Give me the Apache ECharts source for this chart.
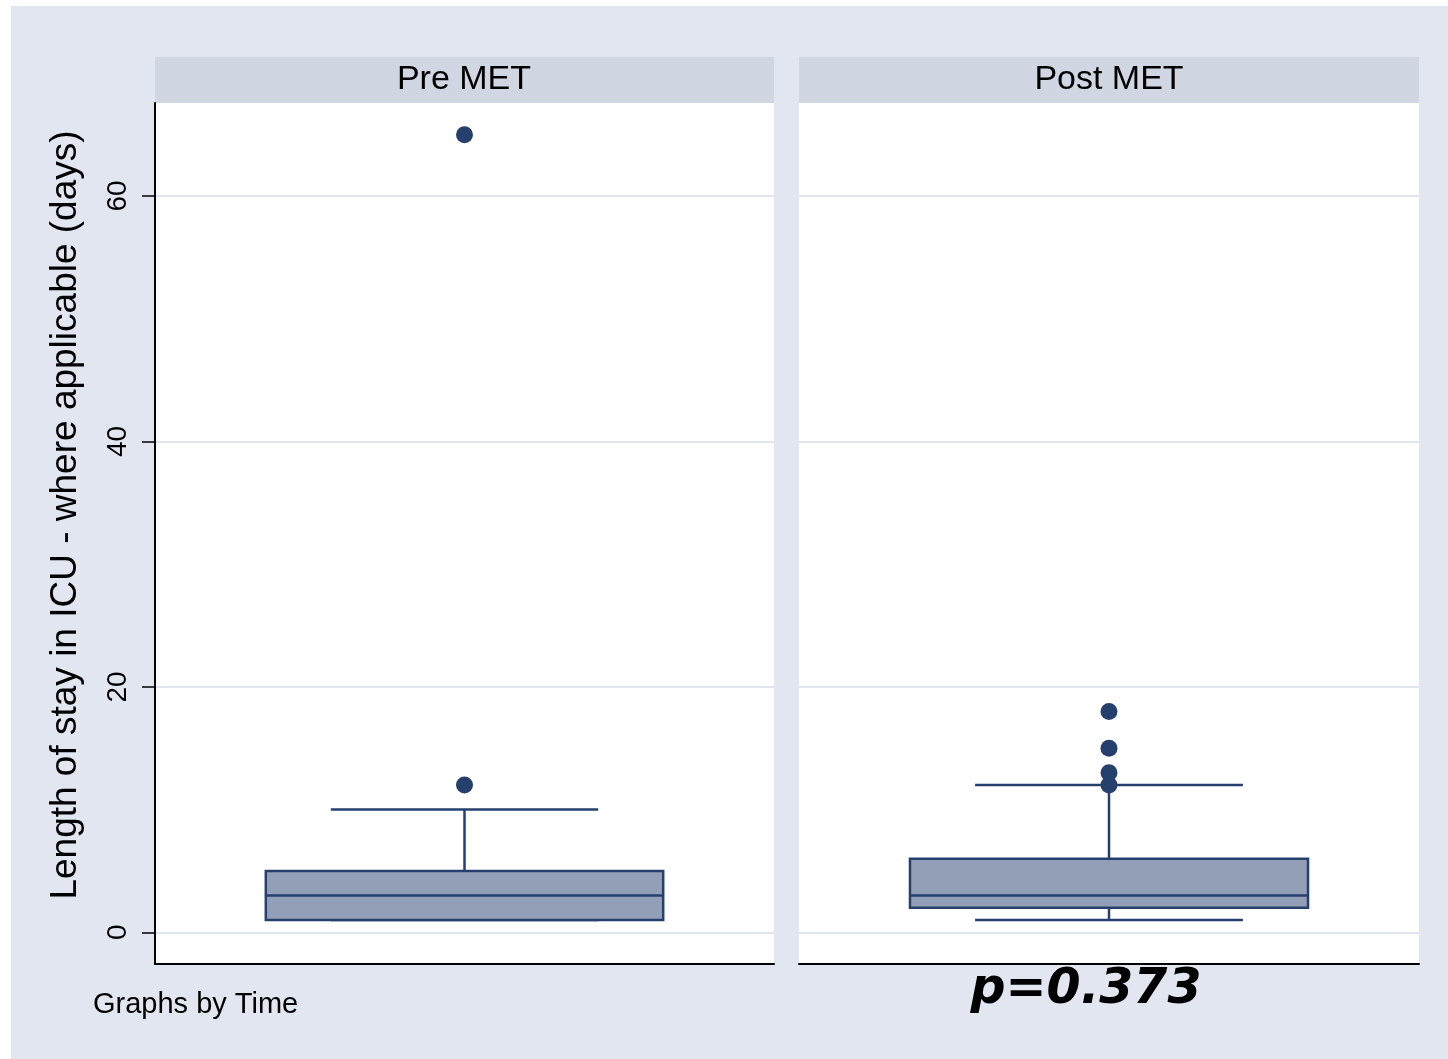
<!DOCTYPE html>
<html>
<head>
<meta charset="utf-8">
<script src="https://cdn.jsdelivr.net/npm/echarts@6/dist/echarts.min.js"></script>
<style>
html,body{margin:0;padding:0;background:#ffffff;}
#chart{width:1448px;height:1059px;}
</style>
</head>
<body>
<div id="chart"></div>
<script>
// ---- data ----
var panels = ['Pre MET', 'Post MET'];
// [lower adjacent, Q1, median, Q3, upper adjacent]
var preBox = [1, 1, 3, 5, 10];
var postBox = [1, 2, 3, 6, 12];
var preOutliers = [12, 65];
var postOutliers = [12, 13, 15, 18];
var yTicks = [0, 20, 40, 60];
var yTitle = 'Length of stay in ICU - where applicable (days)';
var noteText = 'Graphs by Time';
var pText = 'p=0.373';

var NAVY = '#26406e';
var FILL = '#939fb6';
var GRIDC = '#e0e5ef';

function boxRender(params, api) {
  var x = api.value(0);
  var lo = api.value(1), q1 = api.value(2), med = api.value(3), q3 = api.value(4), hi = api.value(5);
  var band = api.size([1, 0])[0];
  var bw = band * 0.642, cw = band * 0.432;
  var pLo = api.coord([x, lo]), pQ1 = api.coord([x, q1]), pMed = api.coord([x, med]),
      pQ3 = api.coord([x, q3]), pHi = api.coord([x, hi]);
  var cx = pMed[0];
  var ls = {stroke: NAVY, lineWidth: 2.5};
  return {
    type: 'group',
    children: [
      {type: 'line', shape: {x1: cx, y1: pQ3[1], x2: cx, y2: pHi[1]}, style: ls},
      {type: 'line', shape: {x1: cx, y1: pQ1[1], x2: cx, y2: pLo[1]}, style: ls},
      {type: 'line', shape: {x1: cx - cw / 2, y1: pHi[1], x2: cx + cw / 2, y2: pHi[1]}, style: ls},
      {type: 'line', shape: {x1: cx - cw / 2, y1: pLo[1], x2: cx + cw / 2, y2: pLo[1]}, style: ls},
      {type: 'rect', shape: {x: cx - bw / 2, y: pQ3[1], width: bw, height: pQ1[1] - pQ3[1]},
        style: {fill: FILL, stroke: NAVY, lineWidth: 2.5}},
      {type: 'line', shape: {x1: cx - bw / 2, y1: pMed[1], x2: cx + bw / 2, y2: pMed[1]}, style: ls}
    ]
  };
}

var chart = echarts.init(document.getElementById('chart'), null, {renderer: 'canvas'});

function yAxisCfg(idx, showLeft) {
  return {
    type: 'value', gridIndex: idx, min: -2.58, max: 67.58,
    axisLine: {show: showLeft, onZero: false, lineStyle: {color: '#000', width: 2}},
    axisTick: {show: showLeft, length: 13, customValues: yTicks, lineStyle: {color: '#000', width: 1.5}},
    axisLabel: {show: showLeft, customValues: yTicks, rotate: 90, margin: 23,
      fontFamily: 'Liberation Sans', fontSize: 28, color: '#000'},
    splitLine: {show: true, lineStyle: {color: GRIDC, width: 2}}
  };
}
function xAxisCfg(idx, name) {
  return {
    type: 'category', gridIndex: idx, data: [name], boundaryGap: true,
    axisLine: {show: true, onZero: false, lineStyle: {color: '#000', width: 2}},
    axisTick: {show: false}, axisLabel: {show: false}, splitLine: {show: false}
  };
}

var option = {
  backgroundColor: '#ffffff',
  animation: false,
  graphic: [
    {type: 'rect', z: -10, shape: {x: 11, y: 6, width: 1437, height: 1053}, style: {fill: '#e1e6f0'}},
    {type: 'rect', z: -9, shape: {x: 155, y: 103, width: 619, height: 861}, style: {fill: '#ffffff'}},
    {type: 'rect', z: -9, shape: {x: 799, y: 103, width: 620, height: 861}, style: {fill: '#ffffff'}},
    {type: 'rect', shape: {x: 155, y: 57, width: 619, height: 46}, style: {fill: '#d0d7e3'}},
    {type: 'rect', shape: {x: 799, y: 57, width: 620, height: 46}, style: {fill: '#d0d7e3'}},
    {type: 'text', x: 464, y: 80, style: {text: panels[0], fontFamily: 'Liberation Sans', fontSize: 34,
      fill: '#000', textAlign: 'center', textVerticalAlign: 'middle'}},
    {type: 'text', x: 1109, y: 80, style: {text: panels[1], fontFamily: 'Liberation Sans', fontSize: 34,
      fill: '#000', textAlign: 'center', textVerticalAlign: 'middle'}},
    {type: 'text', x: 66, y: 515, rotation: Math.PI / 2, style: {text: yTitle, fontFamily: 'Liberation Sans',
      fontSize: 37, fill: '#000', textAlign: 'center', textVerticalAlign: 'middle'}},
    {type: 'text', x: 93, y: 1005, style: {text: noteText, fontFamily: 'Liberation Sans', fontSize: 29,
      fill: '#000', textAlign: 'left', textVerticalAlign: 'middle'}},
    {type: 'text', x: 1086, y: 990, style: {text: pText, fontFamily: 'DejaVu Sans', fontSize: 49,
      fontWeight: 'bold', fontStyle: 'italic', fill: '#000', textAlign: 'center', textVerticalAlign: 'middle'}}
  ],
  grid: [
    {left: 155, top: 103, width: 619, height: 861},
    {left: 799, top: 103, width: 620, height: 861}
  ],
  xAxis: [xAxisCfg(0, panels[0]), xAxisCfg(1, panels[1])],
  yAxis: [yAxisCfg(0, true), yAxisCfg(1, false)],
  series: [
    {type: 'custom', xAxisIndex: 0, yAxisIndex: 0, renderItem: boxRender,
      data: [[0].concat(preBox)], z: 3},
    {type: 'custom', xAxisIndex: 1, yAxisIndex: 1, renderItem: boxRender,
      data: [[0].concat(postBox)], z: 3},
    {type: 'scatter', xAxisIndex: 0, yAxisIndex: 0, symbol: 'circle', symbolSize: 17,
      itemStyle: {color: NAVY, opacity: 1}, z: 5,
      data: preOutliers.map(function (v) { return [0, v]; })},
    {type: 'scatter', xAxisIndex: 1, yAxisIndex: 1, symbol: 'circle', symbolSize: 17,
      itemStyle: {color: NAVY, opacity: 1}, z: 5,
      data: postOutliers.map(function (v) { return [0, v]; })}
  ]
};
chart.setOption(option);
</script>
</body>
</html>
